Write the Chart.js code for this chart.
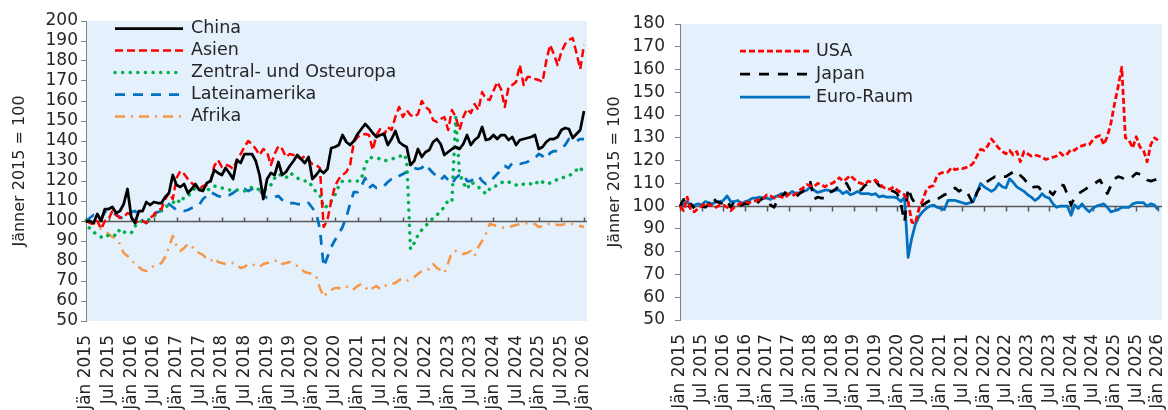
<!DOCTYPE html>
<html lang="de">
<head>
<meta charset="utf-8">
<title>Importpreise Jänner 2015 = 100</title>
<script src="https://cdn.jsdelivr.net/npm/chart.js@4.4.1/dist/chart.umd.min.js"></script>
<style>
  html, body { margin: 0; padding: 0; background: #fff; overflow: hidden; }
  body { width: 1168px; height: 410px; position: relative; }
  .panel { position: absolute; top: 0; }
  #left { left: 0; }
  #right { left: 590px; }
</style>
</head>
<body>
<div class="panel" id="left"><canvas id="chartLeft" width="600" height="410"></canvas></div>
<div class="panel" id="right"><canvas id="chartRight" width="590" height="410"></canvas></div>
<script>
// Monatsachse: Jän 2015 .. Jän 2026
const MONTHS = ["Jän","Feb","Mär","Apr","Mai","Jun","Jul","Aug","Sep","Okt","Nov","Dez"];
const FIRST_YEAR = 2015;
const N_MONTHS = 133;
const LABELS = Array.from({length: N_MONTHS}, (_, i) => `${MONTHS[i % 12]} ${FIRST_YEAR + Math.floor(i / 12)}`);

const Y_TITLE = "Jänner 2015 = 100";

// linkes Panel (eine Zeile = ein Jahr)
const china = [
  100, 100, 99, 103.5, 100, 106, 106, 107, 104, 105, 108.5, 116,
  102, 99, 105, 105, 109.5, 108, 109.5, 109, 109, 112, 114, 123,
  118, 117, 118.5, 114, 116, 118.5, 115.5, 115, 119, 120, 125.5, 124,
  123, 126.5, 124, 121, 130.5, 129, 133.5, 133.5, 133.5, 130, 123, 111,
  121, 124, 123, 129.5, 123, 124.5, 127.5, 130, 133, 131, 129, 132,
  121, 123, 125.5, 124, 126, 136.5, 137, 138, 143, 139.5, 138, 140,
  143.5, 146, 148.5, 146.5, 144, 142, 143, 143.5, 138, 141, 145, 139.5,
  138, 137, 128, 130, 136, 132, 134.5, 135.5, 139.5, 141, 138.5, 133,
  134.5, 136, 137, 136, 138.5, 143, 138, 140.5, 142, 147, 140.5, 141,
  143, 141, 143, 143, 140.5, 142, 138, 140.5, 141, 141.5, 142, 143,
  136, 137, 139.5, 141, 141, 142, 145.5, 146.5, 146, 141.5, 143.5, 145.5,
  155
];

const asien = [
  100, 99, 98.5, 100, 96, 100, 101, 105, 103, 101.5, 102, 104,
  103, 99, 100, 100, 99, 101.5, 103, 105.5, 106, 111, 114, 111,
  121.5, 125, 123.5, 121, 119, 117.5, 116, 117.5, 118, 119.5, 127.5, 130.5,
  127, 128, 127.5, 126, 130.5, 133.5, 137, 140, 138.5, 136, 133, 136,
  134.5, 128, 133.5, 137.5, 136, 132, 133.5, 133, 132, 131, 132.5, 130.5,
  128.5, 128, 126.5, 97, 100.5, 110, 117.5, 121, 123, 124.5, 128, 139.5,
  142, 143, 143.5, 143, 135.5, 143, 146, 143, 147, 145.5, 152, 157,
  152, 155.5, 153, 152, 153.5, 160, 157, 155.5, 150.5, 149.5, 151, 152,
  145.5, 155.5, 152, 145.5, 152, 156, 154, 158.5, 155.5, 164.5, 161, 160.5,
  165, 169.5, 166, 157, 167, 168, 169.5, 178, 168, 172, 172, 171,
  170.5, 169.5, 180, 188, 183.5, 178, 184.5, 188.5, 190.5, 191.5, 184, 176,
  188
];

const zentralOsteuropa = [
  100, 96, 94.5, 93, 92, 91.5, 93, 93.5, 92.5, 96, 94.5, 94,
  94, 97.5, 99, 100, 100, 101, 102.5, 104, 105.5, 107, 108, 109,
  111, 109, 112, 112.5, 114.5, 116.5, 116.5, 115.5, 115.5, 116, 117.5, 117,
  116.5, 116, 115.5, 115.5, 115.5, 115.5, 115, 115.5, 117, 116.5, 115.5, 115,
  116.5, 118, 121.5, 123.5, 122.5, 121.5, 124, 123, 121.5, 120.5, 120, 120,
  117, 114.5, 113, 106.5, 107.5, 110, 113, 117.5, 120, 120, 120, 120,
  120, 121, 128, 132, 131.5, 131.5, 131, 130, 130.5, 131, 131.5, 132,
  133.5, 131, 86, 89, 93, 95.5, 97.5, 99.5, 101.5, 103, 105, 107,
  110.5, 110, 152, 124, 119, 116, 119.5, 118.5, 117, 115.5, 113.5, 116,
  117.5, 117.5, 119, 120, 119.5, 119, 118, 117.5, 118.5, 119, 118.5, 118,
  120.5, 119.5, 118.5, 119, 119.5, 121, 121.5, 122, 122.5, 124, 125.5, 127,
  123
];

const lateinamerika = [
  100, 101.5, 103, 102, 101, 104.5, 105, 104.5, 103, 102, 101, 103,
  104.5, 105, 103, 100, 99, 101, 103.5, 104.5, 105, 105.5, 108.5, 107,
  105.5, 105, 105, 105.5, 106.5, 107, 108, 111, 112.5, 114.5, 113.5, 112.5,
  112, 113, 113, 114, 115.5, 115, 116, 115, 116, 116.5, 115.5, 113,
  111.5, 111.5, 112, 112.5, 110.5, 109, 109, 109, 108.5, 108.5, 108, 109,
  106.5, 104, 96, 77, 82, 87, 90.5, 93.5, 97, 102, 108.5, 114.5,
  114.5, 117.5, 121.5, 116.5, 118, 116.5, 116.5, 117.5, 119.5, 121, 121, 122.5,
  123.5, 124.5, 126, 126.5, 126, 126.5, 128.5, 126, 124, 122.5, 120.5, 122.5,
  120.5, 118.5, 121.5, 123, 123.5, 120, 120, 121.5, 122.5, 120, 118.5, 119,
  121.5, 123.5, 125.5, 127.5, 126.5, 129, 128.5, 128.5, 129, 129.5, 131, 131.5,
  133.5, 132.5, 131, 134, 135, 135, 136, 138, 141, 140, 140, 141,
  141
];

const afrika = [
  100, 99.5, 99, 97.5, 96, 95, 93.5, 92, 91, 88.5, 84, 82.5,
  80.5, 78.5, 77, 75.5, 75, 76.5, 77.5, 78, 79, 82, 87, 92.5,
  87.5, 85, 86.5, 88.5, 87.5, 85, 84, 83, 81, 80, 81.5, 79.5,
  79, 78.5, 78.5, 79, 78, 76.5, 77, 78.5, 78.5, 77.5, 77, 78.5,
  79, 79.5, 80, 80.5, 78.5, 79, 79.5, 78.5, 77.5, 76, 74.5, 74,
  73.5, 72.5, 66.5, 62, 64.5, 65.5, 66.5, 66.5, 66, 67, 67.5, 66,
  67.5, 68.5, 67, 65, 66.5, 67.5, 66, 67.5, 68, 68.5, 69, 70.5,
  71, 70, 71, 72, 73.5, 75, 75.5, 76, 78.5, 76.5, 75.5, 74,
  79, 84.5, 85, 84.5, 83.5, 84, 85, 82.5, 87, 90, 93.5, 98.5,
  98, 97.5, 97, 96.5, 97, 97.5, 98, 98.5, 98.5, 99, 98.5, 98.5,
  97, 97.5, 98.5, 98.5, 98.5, 98, 98, 98.5, 98.5, 98.5, 98, 97.5,
  97
];

// rechtes Panel
const usa = [
  100, 98, 104, 98, 97.5, 99, 100, 101.5, 100.5, 100.5, 99.5, 100.5,
  100.5, 99.5, 98, 99.5, 100.5, 101.5, 102, 101.5, 102, 102.5, 103, 103.5,
  105, 104.5, 103.5, 104.5, 104, 103.5, 105.5, 104.5, 105.5, 107, 108, 109.5,
  109, 108.5, 110, 109.5, 108.5, 109.5, 110, 111, 112.5, 111, 112, 113.5,
  112, 110.5, 110, 109.5, 111, 110.5, 111.5, 110, 108.5, 107.5, 107.5, 108.5,
  107, 106, 105, 102, 93, 92.5, 99, 102.5, 107, 108.5, 109, 113.5,
  114.5, 115, 115, 117, 116, 116.5, 116.5, 117, 117.5, 119, 122, 125,
  124.5, 126.5, 129.5, 127.5, 125.5, 124, 123, 124.5, 122.5, 124, 119.5, 124,
  123, 122, 122.5, 122, 121.5, 120.5, 121, 121.5, 122, 123.5, 122, 123,
  125, 124.5, 126, 126.5, 127, 127, 129, 130.5, 131, 127, 130.5, 136.5,
  145, 152.5, 161, 130, 129, 125.5, 130.5, 126, 124.5, 119.5, 127, 130,
  129
];

const japan = [
  100, 103, 99, 101, 99, 100.5, 100, 99.5, 101, 104, 102, 101.5,
  101, 102.5, 99.5, 102, 100, 100.5, 101, 101, 101, 100.5, 102.5, 103.5,
  104, 100.5, 99.5, 103, 104, 106, 104.5, 104, 104, 105.5, 106.5, 109,
  110.5, 103, 104, 103.5, 103.5, 106, 106.5, 107.5, 109, 110.5, 110, 107,
  107.5, 107, 107, 109, 110, 110.5, 111, 109, 108.5, 107.5, 107, 106.5,
  105.5, 101, 93, 108, 103.5, 101, 100, 100.5, 101.5, 102.5, 103.5, 103,
  104, 105, 105.5, 107, 108, 106.5, 107.5, 107, 104, 101, 106, 108.5,
  110, 111, 112, 113, 112.5, 113, 113, 114, 115, 115.5, 113.5, 112,
  110, 108, 108.5, 108.5, 106.5, 106.5, 106.5, 105, 107.5, 109.5, 109, 105,
  100.5, 104, 105.5, 106.5, 107.5, 108.5, 109.5, 110.5, 111.5, 108.5, 105.5, 109,
  112, 113, 112.5, 111.5, 112, 113, 114.5, 114, 113.5, 111.5, 111, 111.5,
  112
];

const euroRaum = [
  100, 100.5, 102, 100, 100.5, 101, 100.5, 102, 101.5, 101, 102, 102,
  102.5, 104.5, 102, 102, 102.5, 101, 102, 102.5, 103.5, 103.5, 104, 103.5,
  103.5, 103, 104, 104.5, 105.5, 105, 105, 106.5, 105.5, 106, 106.5, 107,
  108.5, 107, 106, 106.5, 107, 107, 106.5, 107, 107, 105.5, 106.5, 105,
  105.5, 106.5, 105.5, 105.5, 105.5, 105, 105.5, 104, 104.5, 104, 104, 104,
  103.5, 102, 104, 77.5, 86, 92, 95.5, 97.5, 99, 100, 100.5, 99.5,
  99, 98.5, 102.5, 102.5, 102.5, 102, 101.5, 101, 101.5, 102, 106, 110,
  108.5, 107.5, 106.5, 107.5, 110, 108.5, 108, 112, 110.5, 108.5, 107.5, 106.5,
  105, 104, 102.5, 103.5, 105.5, 104, 103.5, 101, 99.5, 100, 100, 100,
  96, 100.5, 99, 101, 99, 97.5, 99, 100, 100.5, 101, 99.5, 97.5,
  98, 98.5, 99.5, 99.5, 99.5, 101, 101.5, 101.5, 101.5, 100, 101, 100.5,
  98.5
];

const FONT = "'DejaVu Sans', sans-serif";
const TEXT = "#262626";
const AXIS = "#808080";
const PLOT_BG = "#e4f0fb";

const el = (id) => document.getElementById(id);

// Hintergrund der Zeichenfläche
const plotBg = {
  id: "plotBg",
  beforeDraw(chart, args, o){
    const {ctx, chartArea: a} = chart;
    ctx.save();
    ctx.fillStyle = o.color;
    ctx.fillRect(a.left, a.top, a.width + o.extra, a.height);
    ctx.restore();
  }
};

// waagrechte Achse bei 100 mit Teilstrichen (halbjährlich)
const baseLine = {
  id: "baseLine",
  beforeDatasetsDraw(chart, args, o){
    const {ctx, chartArea: a, scales: {x, y}} = chart;
    const py = Math.round(y.getPixelForValue(o.value)) + 0.5;
    ctx.save();
    ctx.strokeStyle = o.color;
    ctx.lineWidth = o.width;
    ctx.beginPath();
    ctx.moveTo(a.left, py);
    ctx.lineTo(a.right + o.extra, py);
    for(let i = 0; i < chart.data.labels.length; i += o.every){
      const px = Math.round(x.getPixelForValue(i)) + 0.5;
      ctx.moveTo(px, py);
      ctx.lineTo(px, py + o.tick);
    }
    ctx.stroke();
    ctx.restore();
  }
};

// Legende in der Zeichenfläche
const inLegend = {
  id: "inLegend",
  afterDatasetsDraw(chart, args, o){
    const {ctx, chartArea: a} = chart;
    ctx.save();
    chart.data.datasets.forEach((ds, i) => {
      const y = a.top + o.top + i * o.row;
      const x0 = a.left + o.left;
      ctx.beginPath();
      ctx.strokeStyle = ds.borderColor;
      ctx.lineWidth = ds.borderWidth;
      ctx.lineCap = ds.borderCapStyle || "butt";
      ctx.setLineDash(ds.borderDash || []);
      ctx.moveTo(x0, y);
      ctx.lineTo(x0 + o.len, y);
      ctx.stroke();
      ctx.setLineDash([]);
      ctx.fillStyle = TEXT;
      ctx.font = `${o.size}px ${FONT}`;
      ctx.textBaseline = "middle";
      ctx.textAlign = "left";
      ctx.fillText(ds.label, x0 + o.len + o.gap, y);
    });
    ctx.restore();
  }
};

function series(label, data, color, width, dash, cap){
  return {
    label, data,
    borderColor: color,
    backgroundColor: color,
    borderWidth: width,
    borderDash: dash,
    borderCapStyle: cap || "butt",
    borderJoinStyle: "round",
    pointRadius: 0,
    tension: 0,
    fill: false
  };
}

function makePanel(canvas, p){
  return new Chart(canvas, {
    type: "line",
    data: { labels: LABELS, datasets: p.datasets },
    options: {
      responsive: false,
      animation: false,
      layout: { padding: p.padding },
      plugins: {
        legend: { display: false },
        tooltip: { enabled: false },
        plotBg: { color: PLOT_BG, extra: p.extra },
        baseLine: { value: 100, color: "#595959", width: 1.5, every: 6, tick: p.tick, extra: p.extra },
        inLegend: p.legend
      },
      scales: {
        x: {
          grid: { display: false, drawTicks: false },
          border: { display: false },
          ticks: {
            autoSkip: false, minRotation: 90, maxRotation: 90, padding: 14,
            color: TEXT, font: { family: FONT, size: 17 },
            callback(v, i){ return i % 6 === 0 ? this.getLabelForValue(v) : ""; }
          },
          afterFit: (s) => {
            s.height = p.xHeight;
            // Randlabels sollen die Zeichenfläche nicht verkleinern
            s.paddingLeft = 0;
            s.paddingRight = 0;
          }
        },
        y: {
          min: p.min, max: p.max,
          ticks: { stepSize: 10, autoSkip: false, padding: p.tickPad, color: TEXT, font: { family: FONT, size: 17 } },
          grid: { drawOnChartArea: false, drawTicks: true, tickLength: 5, color: AXIS },
          border: { display: true, color: AXIS, width: 1 },
          title: {
            display: true, text: Y_TITLE, color: TEXT,
            font: { family: FONT, size: 16 }, padding: { top: p.titlePad, bottom: 0 }
          },
          afterFit: (s) => { s.width = p.yWidth; }
        }
      }
    },
    plugins: [plotBg, baseLine, inLegend]
  });
}

makePanel(el("chartLeft"), {
  datasets: [
    series("China", china, "#000000", 2.75, []),
    series("Asien", asien, "#ff0000", 2.5, [8, 4]),
    series("Zentral- und Osteuropa", zentralOsteuropa, "#00b050", 3.5, [0.1, 7.5], "round"),
    series("Lateinamerika", lateinamerika, "#0070c0", 2.75, [10, 8]),
    series("Afrika", afrika, "#f79646", 2.5, [10, 6, 2, 6])
  ],
  min: 50, max: 200,
  padding: { top: 21, right: 16, bottom: 0, left: 0 },
  yWidth: 86, xHeight: 89, tickPad: 3, titlePad: 10,
  tick: -4, extra: 3,
  legend: { left: 29, top: 7.5, row: 22, len: 68, gap: 8, size: 17.5 }
});

makePanel(el("chartRight"), {
  datasets: [
    series("USA", usa, "#ff0000", 2.75, [6, 3]),
    series("Japan", japan, "#000000", 2.75, [10, 9]),
    series("Euro-Raum", euroRaum, "#0070c0", 2.75, [])
  ],
  min: 50, max: 180,
  padding: { top: 24, right: 22, bottom: 0, left: 0 },
  yWidth: 90, xHeight: 90, tickPad: 10, titlePad: 15,
  tick: 5, extra: 4,
  legend: { left: 60, top: 27, row: 23, len: 70, gap: 6, size: 17.5 }
});
</script>
</body>
</html>
